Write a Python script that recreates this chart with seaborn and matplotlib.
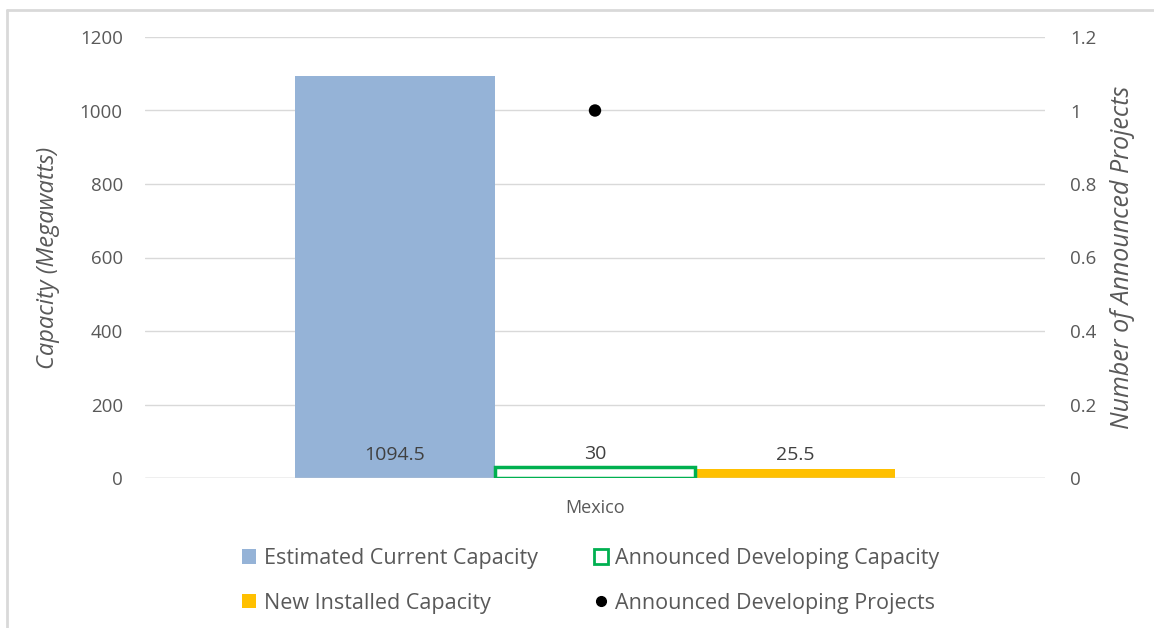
import matplotlib
matplotlib.use("Agg")
import matplotlib.pyplot as plt
from matplotlib.lines import Line2D
from matplotlib.patches import Patch
import seaborn as sns
import pandas as pd

countries = ["Mexico"]
series = ["Estimated Current Capacity", "Announced Developing Capacity", "New Installed Capacity"]
capacity = [1094.5, 30, 25.5]
projects_label = "Announced Developing Projects"
projects = [1]
left_ticks = [0, 200, 400, 600, 800, 1000, 1200]
right_ticks = [0, 0.2, 0.4, 0.6, 0.8, 1.0, 1.2]
right_tick_labels = ["0", "0.2", "0.4", "0.6", "0.8", "1", "1.2"]

colors = ["#95b3d7", "#00b050", "#ffc000"]
text_color = "#595959"

sns.set_theme(style="white")
plt.rcParams["font.family"] = ["Open Sans", "DejaVu Sans"]

df = pd.DataFrame({"country": countries * len(series), "series": series, "capacity": capacity})
df_proj = pd.DataFrame({"country": countries, "projects": projects})

fig = plt.figure(figsize=(11.54, 6.28), dpi=100)
ax = fig.add_axes([145 / 1154, 1 - 478 / 628, 900 / 1154, 441 / 628])

sns.barplot(data=df, x="country", y="capacity", hue="series", hue_order=series,
            palette=colors, width=2 / 3, saturation=1, ax=ax, legend=False,
            linewidth=0, errorbar=None)

bars = ax.patches[:3]
# hollow outline for the announced developing capacity
bars[1].set_facecolor("white")
bars[1].set_edgecolor(colors[1])
bars[1].set_linewidth(2.5)
bars[1].set_zorder(4)

ax.set_xlim(-0.5, 0.5)
ax.set_ylim(0, 1200)
ax.set_yticks(left_ticks)
ax.set_yticklabels([str(t) for t in left_ticks])
ax.grid(axis="y", color="#d9d9d9", linewidth=1)
ax.set_axisbelow(True)
for s in ax.spines.values():
    s.set_visible(False)
ax.tick_params(axis="y", length=0, labelsize=13.5, colors=text_color, pad=16)
ax.tick_params(axis="x", length=0, labelsize=13, colors=text_color, pad=15)
ax.set_xlabel("")
ax.set_ylabel("Capacity (Megawatts)", fontsize=17, style="italic", color=text_color, labelpad=14)
ax.axhline(0, color="#d0d0d0", linewidth=1, zorder=1)

# value labels
for bar, val in zip(bars, capacity):
    cx = bar.get_x() + bar.get_width() / 2
    if val > 200:
        ax.text(cx, 62, f"{val:g}", ha="center", va="center", fontsize=14, color="#404040", zorder=5)
    else:
        ax.text(cx, val + 12, f"{val:g}", ha="center", va="bottom", fontsize=14, color="#404040", zorder=5)

ax2 = ax.twinx()
sns.scatterplot(data=df_proj, x="country", y="projects", color="black", s=80,
                edgecolor="none", ax=ax2, legend=False, zorder=6)
ax2.set_ylim(0, 1.2)
ax2.set_xlim(-0.5, 0.5)
ax2.set_yticks(right_ticks)
ax2.set_yticklabels(right_tick_labels)
for s in ax2.spines.values():
    s.set_visible(False)
ax2.tick_params(axis="y", length=0, labelsize=13.5, colors=text_color, pad=18)
ax2.set_ylabel("Number of Announced Projects", fontsize=18, style="italic", color=text_color, labelpad=10)
ax2.grid(False)

handles = [
    Patch(facecolor=colors[0], edgecolor="none"),
    Patch(facecolor=colors[2], edgecolor="none"),
    Patch(facecolor="white", edgecolor=colors[1], linewidth=2),
    Line2D([], [], marker="o", linestyle="none", color="black", markersize=7),
]
labels = [series[0], series[2], series[1], projects_label]
fig.legend(handles, labels, loc="center", bbox_to_anchor=(0.512, 0.075), ncol=2,
           frameon=False, fontsize=15.5, labelcolor=text_color, handlelength=0.65,
           handleheight=0.65, handletextpad=0.35, columnspacing=2.6, labelspacing=1.1)

# outer frame edges
fig.add_artist(Line2D([7 / 1154, 1], [1 - 10 / 628, 1 - 10 / 628], color="#d9d9d9", linewidth=2))
fig.add_artist(Line2D([7 / 1154, 7 / 1154], [0, 1 - 10 / 628], color="#d9d9d9", linewidth=2))

fig.savefig("out.png", dpi=100)
